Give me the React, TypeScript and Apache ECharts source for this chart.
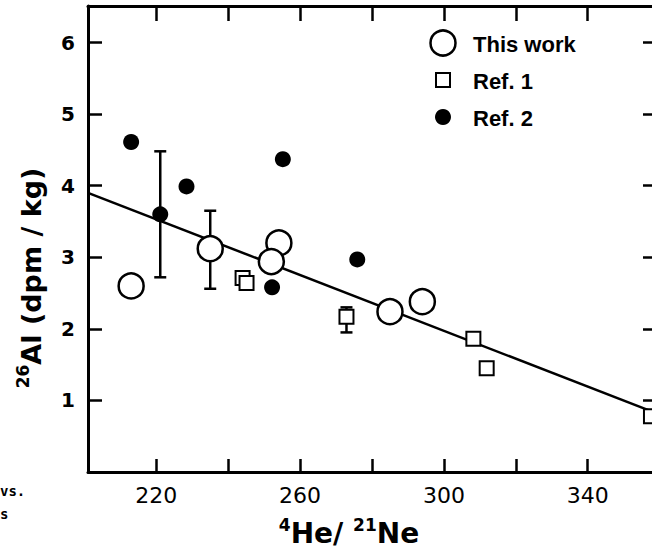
import React, { useEffect, useRef } from "react";
import * as echarts from "echarts";

// x: 4He/21Ne, y: 26Al (dpm/kg)
const thisWork: number[][] = [
  [213.0, 2.6],
  [235.0, 3.12],
  [254.1, 3.2],
  [252.0, 2.94],
  [285.0, 2.24],
  [294.0, 2.38],
];
const ref1: number[][] = [
  [244.0, 2.71],
  [245.1, 2.64],
  [272.9, 2.17],
  [308.2, 1.86],
  [311.9, 1.45],
  [357.6, 0.78],
];
const ref2: number[][] = [
  [213.0, 4.61],
  [221.1, 3.6],
  [228.4, 3.99],
  [255.2, 4.37],
  [252.2, 2.58],
  [275.9, 2.97],
];
// [x, low, high]
const errorBars: number[][] = [
  [221.1, 2.72, 4.48],
  [235.0, 2.56, 3.65],
  [272.9, 1.95, 2.3],
];
const fitLine: number[][] = [
  [201, 3.9],
  [357.6, 0.85],
];
const xTicks = [220, 240, 260, 280, 300, 320, 340];
const xLabels = [220, 260, 300, 340];
const yTicks = [1, 2, 3, 4, 5, 6];
const legendNames = ["This work", "Ref. 1", "Ref. 2"];

const X_MIN = 201;
const X_MAX = 359;
const Y_MIN = 0;
const Y_MAX = 6.51;

export default function App() {
  const ref = useRef<HTMLDivElement>(null);

  useEffect(() => {
    document.body.style.margin = "0";
    document.body.style.background = "#fff";
    if (!ref.current) return;
    const chart = echarts.init(ref.current, null, { renderer: "svg" });

    const axisLine = { show: true, onZero: false, lineStyle: { color: "#000", width: 3 } };
    const tickStyle = { color: "#000", width: 2.5 };
    const legendText = {
      fontFamily: "Liberation Sans",
      fontWeight: "bold",
      fontSize: 22,
      fill: "#000",
      verticalAlign: "middle",
      align: "left",
    };

    const option: any = {
      animation: false,
      backgroundColor: "#fff",
      grid: {
        left: 88,
        right: -4,
        top: 6,
        bottom: 78,
        containLabel: false,
        outerBoundsMode: "none",
      },
      xAxis: [
        {
          type: "value",
          min: X_MIN,
          max: X_MAX,
          position: "bottom",
          axisLine,
          axisTick: {
            show: true,
            inside: true,
            length: 13,
            lineStyle: tickStyle,
            customValues: xTicks,
          },
          axisLabel: {
            show: true,
            customValues: xLabels,
            margin: 12,
            fontSize: 22,
            fontFamily: "DejaVu Sans",
            color: "#000",
          },
          splitLine: { show: false },
        },
        {
          type: "value",
          min: X_MIN,
          max: X_MAX,
          position: "top",
          axisLine,
          axisTick: {
            show: true,
            inside: true,
            length: 15,
            lineStyle: tickStyle,
            customValues: xTicks,
          },
          axisLabel: { show: false },
          splitLine: { show: false },
        },
      ],
      yAxis: [
        {
          type: "value",
          min: Y_MIN,
          max: Y_MAX,
          position: "left",
          axisLine,
          axisTick: {
            show: true,
            inside: true,
            length: 14,
            lineStyle: tickStyle,
            customValues: yTicks,
          },
          axisLabel: {
            show: true,
            customValues: yTicks,
            margin: 13,
            fontSize: 20,
            fontWeight: "bold",
            fontFamily: "DejaVu Sans",
            color: "#000",
          },
          splitLine: { show: false },
        },
        {
          type: "value",
          min: Y_MIN,
          max: Y_MAX,
          position: "right",
          axisLine,
          axisTick: {
            show: true,
            inside: true,
            length: 13,
            lineStyle: tickStyle,
            customValues: yTicks,
          },
          axisLabel: { show: false },
          splitLine: { show: false },
        },
      ],
      graphic: [
        // legend
        {
          type: "circle",
          shape: { cx: 443, cy: 43, r: 12.5 },
          style: { fill: "#fff", stroke: "#000", lineWidth: 2.5 },
        },
        { type: "text", x: 473, y: 44, style: { ...legendText, text: legendNames[0] } },
        {
          type: "rect",
          shape: { x: 436, y: 73, width: 14, height: 14 },
          style: { fill: "#fff", stroke: "#000", lineWidth: 2 },
        },
        { type: "text", x: 473, y: 81, style: { ...legendText, text: legendNames[1] } },
        {
          type: "circle",
          shape: { cx: 443, cy: 117, r: 8 },
          style: { fill: "#000" },
        },
        { type: "text", x: 473, y: 118, style: { ...legendText, text: legendNames[2] } },
        // axis names
        {
          type: "text",
          x: 349,
          y: 533,
          style: {
            text: "{sup|4}{main|He/ }{sup|21}{main|Ne}",
            align: "center",
            verticalAlign: "middle",
            fill: "#000",
            rich: {
              main: {
                fontFamily: "DejaVu Sans",
                fontWeight: "bold",
                fontSize: 28,
                lineHeight: 34,
                fill: "#000",
              },
              sup: {
                fontFamily: "DejaVu Sans",
                fontWeight: "bold",
                fontSize: 17,
                lineHeight: 16,
                verticalAlign: "top",
                fill: "#000",
              },
            },
          },
        },
        {
          type: "text",
          x: 31,
          y: 278,
          rotation: Math.PI / 2,
          style: {
            text: "{sup|26}{main|Al (dpm / kg)}",
            align: "center",
            verticalAlign: "middle",
            fill: "#000",
            rich: {
              main: {
                fontFamily: "DejaVu Sans",
                fontWeight: "bold",
                fontSize: 27,
                lineHeight: 34,
                fill: "#000",
              },
              sup: {
                fontFamily: "DejaVu Sans",
                fontWeight: "bold",
                fontSize: 17,
                lineHeight: 16,
                verticalAlign: "top",
                fill: "#000",
              },
            },
          },
        },
        // caption fragment at the lower left
        {
          type: "text",
          x: 0,
          y: 491,
          style: {
            text: "vs.",
            fontFamily: "DejaVu Sans Mono",
            fontWeight: "bold",
            fontSize: 14,
            verticalAlign: "middle",
            fill: "#000",
          },
        },
        {
          type: "text",
          x: 0,
          y: 514,
          style: {
            text: "s",
            fontFamily: "DejaVu Sans Mono",
            fontWeight: "bold",
            fontSize: 14,
            verticalAlign: "middle",
            fill: "#000",
          },
        },
      ],
      series: [
        {
          name: "fit",
          type: "line",
          data: fitLine,
          symbol: "none",
          silent: true,
          z: 1,
          lineStyle: { color: "#000", width: 2.5 },
        },
        {
          name: "errors",
          type: "custom",
          z: 2,
          silent: true,
          encode: { x: 0, y: [1, 2] },
          data: errorBars,
          renderItem: (params: any, api: any) => {
            const x = api.value(0);
            const lo = api.coord([x, api.value(1)]);
            const hi = api.coord([x, api.value(2)]);
            const w = 6;
            const style = { stroke: "#000", lineWidth: 2.5 };
            return {
              type: "group",
              children: [
                { type: "line", shape: { x1: hi[0], y1: hi[1], x2: lo[0], y2: lo[1] }, style },
                { type: "line", shape: { x1: hi[0] - w, y1: hi[1], x2: hi[0] + w, y2: hi[1] }, style },
                { type: "line", shape: { x1: lo[0] - w, y1: lo[1], x2: lo[0] + w, y2: lo[1] }, style },
              ],
            };
          },
        },
        {
          name: legendNames[2],
          type: "scatter",
          data: ref2,
          symbol: "circle",
          symbolSize: 16,
          z: 3,
          itemStyle: { color: "#000", opacity: 1 },
        },
        {
          name: legendNames[1],
          type: "scatter",
          data: ref1,
          symbol: "rect",
          symbolSize: 14,
          z: 4,
          itemStyle: { color: "#fff", borderColor: "#000", borderWidth: 2, opacity: 1 },
        },
        {
          name: legendNames[0],
          type: "scatter",
          data: thisWork,
          symbol: "circle",
          symbolSize: 25,
          z: 5,
          itemStyle: { color: "#fff", borderColor: "#000", borderWidth: 2.5, opacity: 1 },
        },
      ],
    };

    chart.setOption(option);
    return () => {
      chart.dispose();
    };
  }, []);

  return <div ref={ref} style={{ width: 652, height: 550 }} />;
}
